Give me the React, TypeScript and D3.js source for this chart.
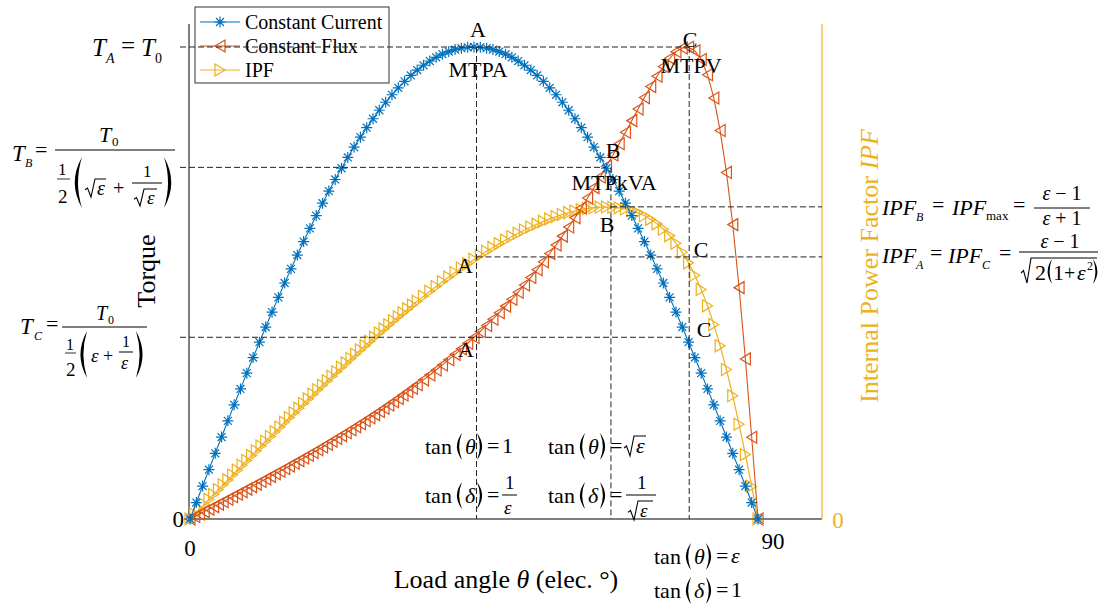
import React from 'react';
import * as d3 from 'd3';

// ---------------- DATA ----------------
// load angle samples for the constant-current curve (deg)
const loadAngle = [
  0, 1, 2, 3, 4, 5, 6, 7, 8, 9, 10, 11, 12, 13, 14, 15, 16, 17, 18, 19, 20,
  21, 22, 23, 24, 25, 26, 27, 28, 29, 30, 31, 32, 33, 34, 35, 36, 37, 38, 39, 40,
  41, 42, 43, 44, 45, 46, 47, 48, 49, 50, 51, 52, 53, 54, 55, 56, 57, 58, 59, 60,
  61, 62, 63, 64, 65, 66, 67, 68, 69, 70, 71, 72, 73, 74, 75, 76, 77, 78, 79, 80,
  81, 82, 83, 84, 85, 86, 87, 88, 89, 90,
];

const torqueConstantCurrent = [
  0, 0.0349, 0.0698, 0.1045, 0.1392, 0.1736, 0.2079, 0.2419, 0.2756, 0.309, 0.342,
  0.3746, 0.4067, 0.4384, 0.4695, 0.5, 0.5299, 0.5592, 0.5878, 0.6157, 0.6428,
  0.6691, 0.6947, 0.7193, 0.7431, 0.766, 0.788, 0.809, 0.829, 0.848, 0.866,
  0.8829, 0.8988, 0.9135, 0.9272, 0.9397, 0.9511, 0.9613, 0.9703, 0.9781, 0.9848,
  0.9903, 0.9945, 0.9976, 0.9994, 1, 0.9994, 0.9976, 0.9945, 0.9903, 0.9848,
  0.9781, 0.9703, 0.9613, 0.9511, 0.9397, 0.9272, 0.9135, 0.8988, 0.8829, 0.866,
  0.848, 0.829, 0.809, 0.788, 0.766, 0.7431, 0.7193, 0.6947, 0.6691, 0.6428,
  0.6157, 0.5878, 0.5592, 0.5299, 0.5, 0.4695, 0.4384, 0.4067, 0.3746, 0.342,
  0.309, 0.2756, 0.2419, 0.2079, 0.1736, 0.1392, 0.1045, 0.0698, 0.0349, 0,
];

// load angle samples for the constant-flux and IPF curves (deg)
const fluxAngle = [
  0, 0.75, 1.5, 2.25, 3, 3.75, 4.5, 5.25, 6, 6.75, 7.5, 8.25, 9, 9.75, 10.5, 11.25,
  12, 12.75, 13.5, 14.25, 15, 15.75, 16.5, 17.25, 18, 18.75, 19.5, 20.25, 21, 21.75,
  22.5, 23.25, 24, 24.75, 25.5, 26.25, 27, 27.75, 28.5, 29.25, 30, 30.75, 31.5, 32.25,
  33, 33.75, 34.5, 35.25, 36, 37, 38, 39, 40, 41, 42, 43, 44, 45, 46, 47, 48, 49, 50,
  51, 52, 53, 54, 55, 56, 57, 58, 59, 60, 61, 62, 63, 64, 65, 66, 67, 68, 69, 70,
  71, 72, 73, 74, 75, 76, 77, 78, 79, 80, 81, 82, 83, 84, 85, 86, 87, 88, 89, 90,
];

const torqueConstantFlux = [
  0, 0.0052, 0.0105, 0.0157, 0.021, 0.0262, 0.0315, 0.0367, 0.042, 0.0473, 0.0526,
  0.0579, 0.0633, 0.0687, 0.074, 0.0794, 0.0849, 0.0903, 0.0958, 0.1013, 0.1069,
  0.1125, 0.1181, 0.1237, 0.1294, 0.1352, 0.1409, 0.1468, 0.1526, 0.1586, 0.1646,
  0.1706, 0.1767, 0.1828, 0.1891, 0.1954, 0.2017, 0.2081, 0.2147, 0.2212, 0.2279,
  0.2347, 0.2415, 0.2484, 0.2555, 0.2626, 0.2698, 0.2772, 0.2846,
  0.2948, 0.3051, 0.3156, 0.3265, 0.3375, 0.3489, 0.3605, 0.3724, 0.3846, 0.3972,
  0.4101, 0.4233, 0.437, 0.451, 0.4655, 0.4805, 0.4959, 0.5118, 0.5282, 0.5451,
  0.5625, 0.5807, 0.5993, 0.6186, 0.6384, 0.659, 0.6802, 0.7021, 0.7245, 0.7475,
  0.7712, 0.7951, 0.8194, 0.844, 0.8686, 0.8928, 0.9161, 0.9382, 0.9586, 0.976,
  0.9899, 0.9978, 0.9995, 0.9919, 0.9735, 0.9413, 0.892, 0.823, 0.7343, 0.6237,
  0.4902, 0.3392, 0.1733, 0,
];

const internalPowerFactor = [
  0, 0.0105, 0.0209, 0.0314, 0.0419, 0.0523, 0.0628, 0.0732, 0.0836, 0.094, 0.1044,
  0.1147, 0.1251, 0.1354, 0.1457, 0.156, 0.1662, 0.1764, 0.1865, 0.1967, 0.2068,
  0.2168, 0.2268, 0.2368, 0.2467, 0.2566, 0.2664, 0.2761, 0.2859, 0.2955, 0.3051,
  0.3146, 0.3241, 0.3335, 0.3429, 0.3521, 0.3613, 0.3704, 0.3795, 0.3885, 0.3974,
  0.4062, 0.4149, 0.4235, 0.4321, 0.4405, 0.4489, 0.4572, 0.4653,
  0.4761, 0.4866, 0.4969, 0.5071, 0.5171, 0.5268, 0.5364, 0.5456, 0.5547, 0.5635,
  0.5721, 0.5803, 0.5884, 0.5961, 0.6035, 0.6107, 0.6175, 0.624, 0.6301, 0.6359,
  0.6412, 0.6462, 0.6506, 0.6546, 0.6581, 0.6611, 0.6635, 0.6653, 0.6663, 0.6666,
  0.6662, 0.6648, 0.6623, 0.6588, 0.6541, 0.6479, 0.6402, 0.6306, 0.6192, 0.6055,
  0.5892, 0.5698, 0.5473, 0.5209, 0.4906, 0.4555, 0.4154, 0.37, 0.3193, 0.2635,
  0.2024, 0.1376, 0.0696, 0,
];

const xTickValues = [0, 90];
const seriesNames = ['Constant Current', 'Constant Flux', 'IPF'];
// operating points A (MTPA), B (MTPkVA), C (MTPV)
const pointAngles = [45.4, 66.7, 79.1];
const torqueLevels = [1, 0.745, 0.385]; // T_A, T_B, T_C
const ipfLevels = [0.667, 0.56]; // IPF_B, IPF_A = IPF_C

// ---------------- STYLE ----------------
const SERIF = "'Liberation Serif', 'Times New Roman', Tinos, FreeSerif";
const BLUE = '#0072BD';
const ORANGE = '#D95319';
const YELLOW = '#EDB120';

const x = d3.scaleLinear().domain([0, 90]).range([190, 758]);
const yT = d3.scaleLinear().domain([0, 1]).range([519, 47]);
const yI = d3.scaleLinear().domain([0, 1]).range([519, 51]);
const AX_L = 189, AX_R = 822, AX_TOP = 24, AX_BOT = 519;

function Tx(p: any) {
  const { x, y, s = 22, i = false, c = '#000', a = 'start', children, ...rest } = p;
  return (
    <text x={x} y={y} fill={c} textAnchor={a}
      style={{ fontFamily: SERIF, fontSize: s + 'px', fontStyle: i ? 'italic' : 'normal' }} {...rest}>{children}</text>
  );
}

function Paren({ x, y1, y2, w = 8, right = false }: any) {
  const m = (y1 + y2) / 2;
  const d = !right
    ? `M${x + w},${y1} Q${x - w * 0.45},${m} ${x + w},${y2} Q${x + w * 0.2},${m} ${x + w},${y1}Z`
    : `M${x},${y1} Q${x + w * 1.45},${m} ${x},${y2} Q${x + w * 0.8},${m} ${x},${y1}Z`;
  return <path d={d} fill="#000" />;
}

function Rad({ x, y1, y2, w }: any) {
  const h = y2 - y1;
  const d = `M${x},${y1 + h * 0.6} L${x + 2.5},${y1 + h * 0.5} L${x + 6},${y2} L${x + 10},${y1} L${x + 10 + w},${y1}`;
  return <path d={d} fill="none" stroke="#000" strokeWidth={1.1} />;
}

function Bar({ x1, x2, y, sw = 1 }: any) {
  return <line x1={x1} x2={x2} y1={y} y2={y} stroke="#000" strokeWidth={sw} />;
}

function asterisk(cx: number, cy: number, r = 5.5) {
  const k = r * 0.72;
  return `M${cx - r},${cy}h${2 * r}M${cx},${cy - r}v${2 * r}M${cx - k},${cy - k}l${2 * k},${2 * k}M${cx - k},${cy + k}l${2 * k},${-2 * k}`;
}
function triLeft(cx: number, cy: number) {
  return `M${cx - 5},${cy}L${cx + 5},${cy - 6}L${cx + 5},${cy + 6}Z`;
}
function triRight(cx: number, cy: number) {
  return `M${cx + 5},${cy}L${cx - 5},${cy - 6}L${cx - 5},${cy + 6}Z`;
}

function TanExpr({ x, y, v }: any) {
  return (
    <g>
      <Tx x={x} y={y} s={22}>tan</Tx>
      <Paren x={x + 30} y1={y - 21} y2={y + 6} w={7} />
      <Tx x={x + 40} y={y} s={22} i>{v}</Tx>
      <Paren x={x + 52} y1={y - 21} y2={y + 6} w={7} right />
      <Tx x={x + 62} y={y - 1} s={22}>=</Tx>
    </g>
  );
}

export default function App() {
  const cc = loadAngle.map((a, k) => ({ a, v: torqueConstantCurrent[k] }));
  const cf = fluxAngle.map((a, k) => ({ a, v: torqueConstantFlux[k] }));
  const ipf = fluxAngle.map((a, k) => ({ a, v: internalPowerFactor[k] }));
  const lineT = d3.line<any>().x((d) => x(d.a)).y((d) => yT(d.v));
  const lineI = d3.line<any>().x((d) => x(d.a)).y((d) => yI(d.v));

  const [aA, aB, aC] = pointAngles;
  const [tA, tB, tC] = torqueLevels;
  const [iB, iA] = ipfLevels;
  const dash = { stroke: '#222', strokeWidth: 1, strokeDasharray: '6 3', fill: 'none' } as any;

  return (
    <svg width={1114} height={611} style={{ position: 'absolute', left: 0, top: 0, background: '#fff', fontFamily: SERIF }}>
      <rect width={1114} height={611} fill="#fff" />

      {/* axes */}
      <line x1={AX_L} x2={AX_L} y1={AX_TOP} y2={AX_BOT} stroke="#000" strokeWidth={1} />
      <line x1={AX_L} x2={AX_R} y1={AX_BOT} y2={AX_BOT} stroke="#000" strokeWidth={1} />
      <line x1={AX_R} x2={AX_R} y1={AX_TOP} y2={AX_BOT} stroke={YELLOW} strokeWidth={1.2} />
      {xTickValues.map((t) => (
        <line key={t} x1={x(t)} x2={x(t)} y1={AX_BOT} y2={AX_BOT - 5} stroke="#000" />
      ))}

      {/* tick labels */}
      <Tx x={184} y={527} s={23} a="end">0</Tx>
      <Tx x={x(xTickValues[0])} y={556} s={23} a="middle">{xTickValues[0]}</Tx>
      <Tx x={x(xTickValues[1]) + 15} y={549} s={23} a="middle">{xTickValues[1]}</Tx>
      <Tx x={838} y={528} s={23} c={YELLOW} a="middle">0</Tx>

      {/* axis labels */}
      <Tx x={0} y={0} s={26} a="middle" transform="translate(155,271) rotate(-90)">Torque</Tx>
      <text transform="translate(878,266) rotate(-90)" fill={YELLOW} textAnchor="middle"
        style={{ fontFamily: SERIF, fontSize: '26px' }}>
        Internal Power Factor <tspan style={{ fontStyle: 'italic' }}>IPF</tspan>
      </text>
      <text x={506} y={588} textAnchor="middle" style={{ fontFamily: SERIF, fontSize: '26px' }}>
        Load angle <tspan style={{ fontStyle: 'italic' }}>θ</tspan> (elec. °)
      </text>

      {/* curves */}
      <path d={lineI(ipf) || ''} fill="none" stroke={YELLOW} strokeWidth={1.2} />
      {ipf.map((d, k) => (
        <path key={'y' + k} d={triRight(x(d.a), yI(d.v))} fill="none" stroke={YELLOW} strokeWidth={1.2} />
      ))}
      <path d={lineT(cf) || ''} fill="none" stroke={ORANGE} strokeWidth={1.1} />
      {cf.map((d, k) => (
        <path key={'o' + k} d={triLeft(x(d.a), yT(d.v))} fill="none" stroke={ORANGE} strokeWidth={1.2} />
      ))}
      <path d={lineT(cc) || ''} fill="none" stroke={BLUE} strokeWidth={1.1} />
      {cc.map((d, k) => (
        <path key={'b' + k} d={asterisk(x(d.a), yT(d.v))} fill="none" stroke={BLUE} strokeWidth={1.2} />
      ))}

      {/* legend */}
      <rect x={195} y={7} width={194} height={76} fill="#fff" stroke="#333" strokeWidth={1} />
      {[BLUE, ORANGE, YELLOW].map((c, k) => {
        const yy = 22 + k * 24;
        const m = k === 0 ? asterisk(220, yy) : k === 1 ? triLeft(220, yy) : triRight(220, yy);
        return (
          <g key={k}>
            <line x1={200} x2={240} y1={yy} y2={yy} stroke={c} strokeWidth={1.2} />
            <path d={m} fill="none" stroke={c} strokeWidth={1.2} />
            <Tx x={245} y={yy + 7} s={20}>{seriesNames[k]}</Tx>
          </g>
        );
      })}

      {/* reference dashed lines */}
      <line x1={180} x2={x(aC)} y1={yT(tA)} y2={yT(tA)} {...dash} />
      <line x1={180} x2={x(65.9)} y1={yT(tB)} y2={yT(tB)} {...dash} />
      <line x1={180} x2={x(78)} y1={yT(tC)} y2={yT(tC)} {...dash} />
      <line x1={x(aB)} x2={AX_R} y1={yI(iB)} y2={yI(iB)} {...dash} />
      <line x1={x(aA)} x2={AX_R} y1={yI(iA)} y2={yI(iA)} {...dash} />
      <line x1={x(aA)} x2={x(aA)} y1={yT(tA)} y2={AX_BOT} {...dash} />
      <line x1={x(aB)} x2={x(aB)} y1={yT(tB)} y2={AX_BOT} {...dash} />
      <line x1={x(aC)} x2={x(aC)} y1={yT(tA)} y2={AX_BOT} {...dash} />

      {/* point labels */}
      <Tx x={478} y={37} a="middle">A</Tx>
      <Tx x={478} y={77} a="middle">MTPA</Tx>
      <Tx x={690} y={47} a="middle">C</Tx>
      <Tx x={691} y={73} a="middle">MTPV</Tx>
      <Tx x={613} y={158} a="middle">B</Tx>
      <Tx x={614} y={190} a="middle">MTPkVA</Tx>
      <Tx x={607} y={232} a="middle">B</Tx>
      <Tx x={465} y={273} a="middle">A</Tx>
      <Tx x={701} y={257} a="middle">C</Tx>
      <Tx x={466} y={357} a="middle">A</Tx>
      <Tx x={704} y={337} a="middle">C</Tx>

      {/* T_A = T_0 */}
      <Tx x={92} y={56} s={25} i>T</Tx>
      <Tx x={106} y={63} s={14} i>A</Tx>
      <Tx x={121} y={54} s={25}>=</Tx>
      <Tx x={141} y={56} s={25} i>T</Tx>
      <Tx x={155} y={63} s={14}>0</Tx>

      {/* T_B */}
      <Tx x={12} y={161} s={23} i>T</Tx>
      <Tx x={25} y={167} s={12} i>B</Tx>
      <Tx x={35} y={157} s={22}>=</Tx>
      <Bar x1={55} x2={175} y={150} />
      <Tx x={99} y={142} s={22} i>T</Tx>
      <Tx x={112} y={146} s={13}>0</Tx>
      <Tx x={58} y={175} s={17}>1</Tx>
      <Bar x1={57} x2={70} y={179} sw={0.8} />
      <Tx x={58} y={203} s={19}>2</Tx>
      <Paren x={72} y1={157} y2={208} w={10} />
      <Rad x={85} y1={179} y2={197} w={11} />
      <Tx x={97} y={195} s={20} i>ε</Tx>
      <Tx x={113} y={195} s={20}>+</Tx>
      <Tx x={143} y={177} s={17}>1</Tx>
      <Bar x1={132} x2={162} y={183} />
      <Rad x={134} y1={189} y2={206} w={13} />
      <Tx x={147} y={204} s={19} i>ε</Tx>
      <Paren x={164} y1={157} y2={208} w={10} right />

      {/* T_C */}
      <Tx x={20} y={334} s={23} i>T</Tx>
      <Tx x={34} y={340} s={12} i>C</Tx>
      <Tx x={46} y={331} s={22}>=</Tx>
      <Bar x1={62} x2={147} y={327} />
      <Tx x={96} y={320} s={20} i>T</Tx>
      <Tx x={108} y={324} s={12}>0</Tx>
      <Tx x={66} y={350} s={16}>1</Tx>
      <Bar x1={65} x2={76} y={353} sw={0.8} />
      <Tx x={66} y={376} s={19}>2</Tx>
      <Paren x={78} y1={331} y2={378} w={9} />
      <Tx x={91} y={362} s={19} i>ε</Tx>
      <Tx x={103} y={362} s={18}>+</Tx>
      <Tx x={122} y={347} s={16}>1</Tx>
      <Bar x1={119} x2={133} y={352} />
      <Tx x={121} y={369} s={18} i>ε</Tx>
      <Paren x={136} y1={331} y2={378} w={9} right />

      {/* IPF_B = IPF_max */}
      <Tx x={882} y={215} s={22} i>IPF</Tx>
      <Tx x={916} y={221} s={12} i>B</Tx>
      <Tx x={932} y={212} s={22}>=</Tx>
      <Tx x={952} y={215} s={22} i>IPF</Tx>
      <Tx x={986} y={220} s={13}>max</Tx>
      <Tx x={1013} y={212} s={22}>=</Tx>
      <Bar x1={1034} x2={1090} y={208} />
      <Tx x={1062} y={200} s={20} a="middle"><tspan style={{ fontStyle: 'italic' }}>ε</tspan> − 1</Tx>
      <Tx x={1062} y={225} s={20} a="middle"><tspan style={{ fontStyle: 'italic' }}>ε</tspan> + 1</Tx>

      {/* IPF_A = IPF_C */}
      <Tx x={882} y={263} s={22} i>IPF</Tx>
      <Tx x={916} y={269} s={12} i>A</Tx>
      <Tx x={930} y={260} s={22}>=</Tx>
      <Tx x={948} y={263} s={22} i>IPF</Tx>
      <Tx x={982} y={269} s={12} i>C</Tx>
      <Tx x={999} y={260} s={22}>=</Tx>
      <Bar x1={1019} x2={1098} y={252} />
      <Tx x={1060} y={248} s={20} a="middle"><tspan style={{ fontStyle: 'italic' }}>ε</tspan> − 1</Tx>
      <Rad x={1021} y1={258} y2={283} w={66} />
      <Tx x={1035} y={280} s={22}>2</Tx>
      <Paren x={1046} y1={259} y2={284} w={6} />
      <Tx x={1053} y={280} s={22}>1</Tx>
      <Tx x={1064} y={280} s={20}>+</Tx>
      <Tx x={1077} y={280} s={22} i>ε</Tx>
      <Tx x={1087} y={270} s={12}>2</Tx>
      <Paren x={1093} y1={259} y2={284} w={6} right />

      {/* tan annotations */}
      <TanExpr x={425} y={454} v="θ" />
      <Tx x={502} y={453} s={22}>1</Tx>
      <TanExpr x={425} y={503} v="δ" />
      <Tx x={505} y={489} s={19}>1</Tx>
      <Bar x1={502} x2={517} y={495} />
      <Tx x={504} y={514} s={19} i>ε</Tx>

      <TanExpr x={548} y={454} v="θ" />
      <Rad x={624} y1={436} y2={456} w={12} />
      <Tx x={636} y={453} s={22} i>ε</Tx>
      <TanExpr x={548} y={503} v="δ" />
      <Tx x={637} y={489} s={19}>1</Tx>
      <Bar x1={626} x2={656} y={495} />
      <Rad x={628} y1={501} y2={520} w={15} />
      <Tx x={640} y={517} s={19} i>ε</Tx>

      <TanExpr x={654} y={564} v="θ" />
      <Tx x={731} y={563} s={22} i>ε</Tx>
      <TanExpr x={654} y={598} v="δ" />
      <Tx x={731} y={597} s={22}>1</Tx>
    </svg>
  );
}
